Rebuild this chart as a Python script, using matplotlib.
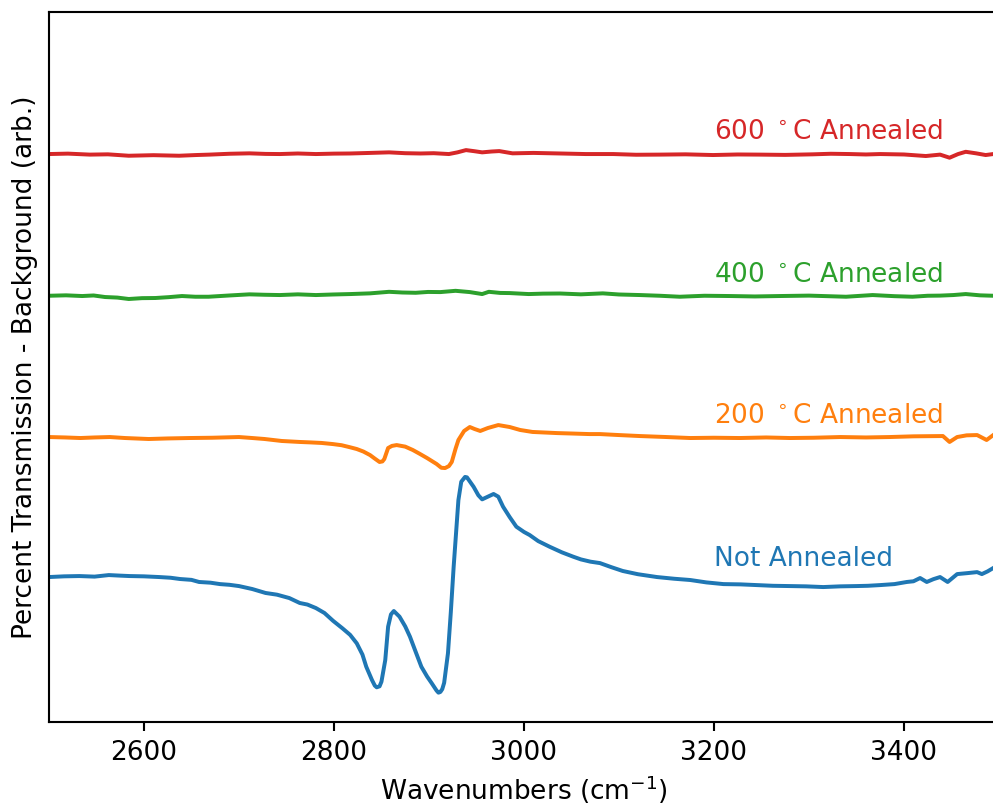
import matplotlib
matplotlib.use("Agg")
import matplotlib.pyplot as plt

# FTIR spectra, CH stretch region, offset for clarity
# Not annealed
wn_0 = [2500, 2516, 2532, 2548, 2563, 2575, 2585, 2600, 2616, 2628, 2638, 2650, 2658, 2670,
        2680, 2690, 2700, 2714, 2728, 2740, 2753, 2764, 2772, 2781, 2790, 2799, 2809, 2817,
        2824, 2830, 2834, 2840, 2843, 2845, 2848, 2850, 2854, 2857, 2860, 2863, 2869, 2875, 2880, 2886,
        2892, 2898, 2903, 2908, 2910, 2912, 2914, 2916, 2920, 2923, 2926, 2931, 2934, 2938, 2940, 2947,
        2952, 2956, 2962, 2968, 2973, 2978, 2985, 2992, 3000, 3006, 3015, 3027, 3040, 3052,
        3060, 3070, 3080, 3092, 3104, 3120, 3140, 3158, 3175, 3192, 3210, 3228, 3245, 3262,
        3280, 3297, 3315, 3333, 3350, 3362, 3375, 3390, 3403, 3410, 3417, 3424, 3431, 3438,
        3446, 3456, 3467, 3477, 3482, 3488, 3494]
t_0 = [0.00, 0.05, 0.07, 0.03, 0.14, 0.10, 0.07, 0.05, 0.00, -0.05, -0.14, -0.20, -0.35, -0.40,
       -0.50, -0.55, -0.64, -0.85, -1.13, -1.25, -1.49, -1.84, -1.95, -2.20, -2.55, -3.10, -3.64, -4.10,
       -4.70, -5.50, -6.36, -7.30, -7.70, -7.82, -7.75, -7.42, -5.89, -3.52, -2.65, -2.41, -2.81, -3.50, -4.23, -5.30,
       -6.36, -7.05, -7.54, -8.05, -8.20, -8.15, -7.95, -7.50, -5.41, -2.50, 0.73, 5.46, 6.76, 7.10, 7.07, 6.40,
       5.80, 5.51, 5.70, 5.89, 5.70, 4.99, 4.25, 3.57, 3.20, 2.98, 2.55, 2.15, 1.75, 1.44,
       1.25, 1.09, 0.99, 0.70, 0.43, 0.20, 0.00, -0.12, -0.21, -0.38, -0.50, -0.52, -0.57, -0.62,
       -0.64, -0.66, -0.71, -0.66, -0.64, -0.62, -0.57, -0.50, -0.35, -0.30, -0.07, -0.35, -0.15, 0.00,
       -0.35, 0.21, 0.28, 0.35, 0.21, 0.40, 0.64]

# 200 C
wn_200 = [2500, 2517, 2533, 2548, 2564, 2580, 2605, 2625, 2648, 2672, 2700, 2714, 2727, 2745,
          2764, 2775, 2787, 2799, 2808, 2816, 2824, 2831, 2838, 2843, 2848, 2851, 2853, 2857,
          2861, 2866, 2875, 2883, 2890, 2898, 2908, 2913, 2917, 2921, 2924, 2928, 2931, 2937,
          2943, 2948, 2954, 2962, 2973, 2985, 2996, 3009, 3022, 3035, 3050, 3069, 3080, 3100,
          3122, 3150, 3175, 3200, 3227, 3255, 3280, 3305, 3333, 3360, 3385, 3410, 3441, 3448,
          3456, 3466, 3477, 3487, 3494]
t_200 = [-0.07, -0.10, -0.14, -0.10, -0.07, -0.14, -0.21, -0.17, -0.14, -0.12, -0.07, -0.14, -0.21, -0.35,
         -0.42, -0.45, -0.49, -0.57, -0.65, -0.78, -0.92, -1.10, -1.35, -1.60, -1.84, -1.80, -1.63, -0.85,
         -0.70, -0.64, -0.75, -0.99, -1.25, -1.56, -1.98, -2.25, -2.27, -2.13, -1.84, -0.90, -0.28, 0.36,
         0.64, 0.50, 0.36, 0.57, 0.78, 0.64, 0.43, 0.29, 0.25, 0.21, 0.18, 0.14, 0.14, 0.07,
         0.00, -0.07, -0.14, -0.12, -0.14, -0.10, -0.14, -0.12, -0.07, -0.10, -0.07, -0.02, 0.00, -0.42,
         -0.07, 0.05, 0.07, -0.28, 0.07]

# 400 C
wn_400 = [2500, 2518, 2535, 2547, 2559, 2572, 2584, 2598, 2612, 2626, 2640, 2654, 2668, 2690,
          2711, 2727, 2743, 2762, 2781, 2799, 2817, 2838, 2858, 2872, 2886, 2899, 2912, 2928,
          2943, 2956, 2963, 2975, 2985, 3005, 3020, 3038, 3060, 3083, 3100, 3122, 3143, 3164,
          3190, 3217, 3243, 3269, 3300, 3339, 3367, 3390, 3409, 3425, 3438, 3452, 3465, 3480,
          3494]
t_400 = [-0.05, -0.02, -0.07, -0.03, -0.14, -0.18, -0.28, -0.22, -0.21, -0.15, -0.07, -0.12, -0.12, -0.03,
         0.05, 0.02, 0.00, 0.05, 0.00, 0.04, 0.07, 0.12, 0.23, 0.18, 0.16, 0.22, 0.21, 0.30,
         0.21, 0.07, 0.23, 0.15, 0.14, 0.07, 0.10, 0.11, 0.05, 0.12, 0.04, 0.00, -0.05, -0.12,
         -0.05, -0.07, -0.10, -0.07, -0.04, -0.12, 0.00, -0.08, -0.12, -0.05, -0.04, 0.00, 0.07, -0.02,
         -0.05]

# 600 C
wn_600 = [2500, 2520, 2543, 2562, 2584, 2610, 2637, 2655, 2669, 2690, 2711, 2728, 2743, 2762,
          2781, 2800, 2817, 2838, 2858, 2875, 2891, 2905, 2921, 2930, 2939, 2948, 2956, 2966,
          2974, 2988, 3010, 3038, 3065, 3094, 3118, 3143, 3170, 3199, 3225, 3248, 3275, 3304,
          3323, 3343, 3360, 3375, 3400, 3423, 3438, 3448, 3457, 3465, 3476, 3486, 3494]
t_600 = [0.00, 0.03, -0.04, -0.02, -0.12, -0.08, -0.12, -0.07, -0.04, 0.02, 0.05, 0.01, 0.00, 0.04,
         0.00, 0.03, 0.04, 0.08, 0.12, 0.06, 0.04, 0.06, 0.00, 0.12, 0.28, 0.20, 0.12, 0.18,
         0.21, 0.05, 0.08, 0.04, 0.00, 0.00, -0.05, -0.04, -0.02, -0.07, -0.03, -0.04, -0.06, -0.02,
         0.02, 0.00, -0.03, 0.00, -0.03, -0.14, -0.04, -0.26, 0.00, 0.16, 0.05, -0.07, 0.00]

series = [(wn_0, t_0), (wn_200, t_200), (wn_400, t_400), (wn_600, t_600)]
labels = ["Not Annealed", "200 $^\\circ$C Annealed", "400 $^\\circ$C Annealed", "600 $^\\circ$C Annealed"]
offsets = [0, 10, 20, 30]
label_y = [0.8, 10.95, 20.95, 31.05]
colors = ["C0", "C1", "C2", "C3"]

fig = plt.figure(figsize=(993 / 190, 804 / 190), dpi=190)
ax = fig.add_axes([0.0493, 0.102, 0.9567, 0.883])

for (wn, t), off, c, lab, ly in zip(series, offsets, colors, labels, label_y):
    ax.plot(wn, [v + off for v in t], color=c, lw=1.5)
    ax.text(3200, ly, lab, color=c, fontsize=10, ha="left", va="baseline")

ax.set_xlim(2500, 3500)
ax.set_ylim(-10.28, 40.07)
ax.set_yticks([])
ax.set_xticks([2600, 2800, 3000, 3200, 3400])
ax.set_xlabel("Wavenumbers (cm$^{-1}$)", fontsize=10, labelpad=2.5)
ax.set_ylabel("Percent Transmission - Background (arb.)", fontsize=10)
ax.tick_params(labelsize=10)

fig.savefig("out.png", dpi=190)
